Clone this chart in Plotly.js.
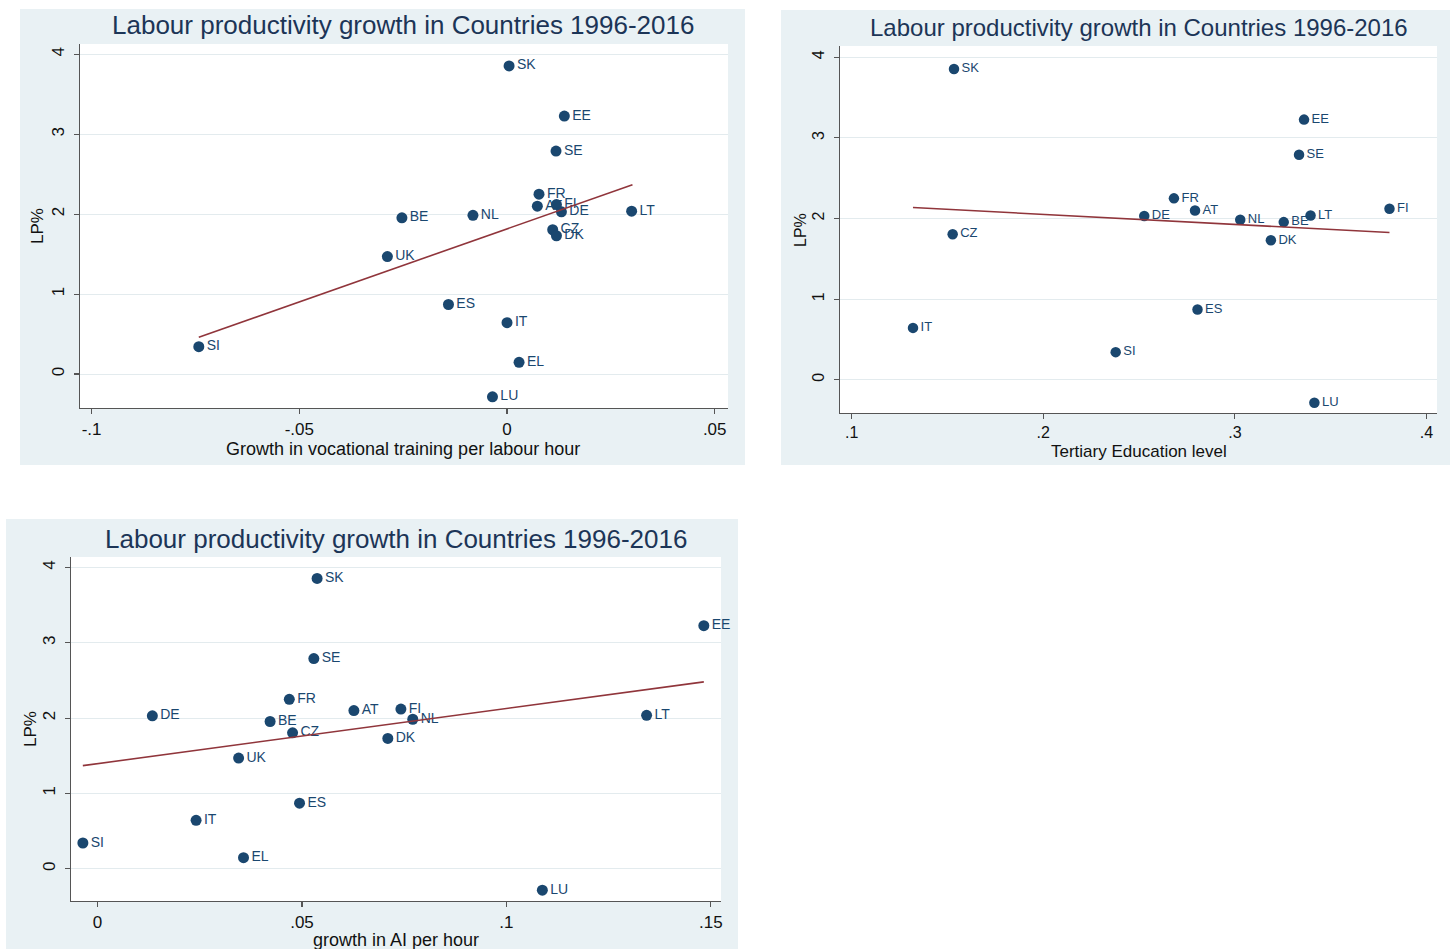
<!DOCTYPE html>
<html>
<head>
<meta charset="utf-8">
<script src="https://cdn.plot.ly/plotly-3.0.1.min.js"></script>
<style>html,body{margin:0;padding:0;background:#fff;}#chart{width:1455px;height:949px;}</style>
</head>
<body>
<div id="chart"></div>
<script>
// ---- Data ----
const countriesVoc = ['SK','EE','SE','FR','AT','FI','DE','LT','BE','NL','CZ','DK','UK','ES','IT','SI','EL','LU'];
const vocTrainingGrowth = [0.0005,0.0138,0.0118,0.0077,0.0073,0.0119,0.0131,0.0300,-0.0253,-0.0082,0.0110,0.0119,-0.0288,-0.0141,0.0000,-0.0742,0.0029,-0.0035];
const lpVoc = [3.855,3.227,2.79,2.25,2.10,2.12,2.03,2.037,1.955,1.985,1.805,1.73,1.47,0.87,0.643,0.342,0.147,-0.285];

const countriesTert = ['SK','EE','SE','FR','DE','AT','NL','BE','LT','FI','CZ','DK','ES','IT','SI','LU'];
const tertiaryEducation = [0.1534,0.3361,0.3335,0.2682,0.2527,0.2792,0.3028,0.3255,0.3395,0.3807,0.1527,0.3188,0.2805,0.1320,0.2378,0.3415];
const lpTert = [3.855,3.227,2.79,2.25,2.03,2.10,1.985,1.955,2.037,2.12,1.805,1.73,0.87,0.643,0.342,-0.285];

const countriesAI = ['SK','EE','SE','FR','DE','AT','FI','NL','BE','CZ','LT','DK','UK','ES','IT','SI','EL','LU'];
const aiGrowth = [0.0537,0.1483,0.0529,0.0469,0.0134,0.0627,0.0742,0.0771,0.0422,0.0477,0.1343,0.0710,0.0345,0.0494,0.0241,-0.0036,0.0357,0.1088];
const lpAI = [3.855,3.227,2.79,2.25,2.03,2.10,2.12,1.985,1.955,1.805,2.037,1.73,1.47,0.87,0.643,0.342,0.147,-0.285];

// fitted lines (endpoints)
const fitVocX = [-0.0742, 0.0302];
const fitVocY = [0.459, 2.369];
const fitTertX = [0.132, 0.3807];
const fitTertY = [2.136, 1.826];
const fitAIX = [-0.0036, 0.1483];
const fitAIY = [1.369, 2.481];

// tick labels
const yTickVals = [0,1,2,3,4];
const yTickText = ['0','1','2','3','4'];
const xTickVals1 = [-0.1,-0.05,0,0.05];
const xTickText1 = ['-.1','-.05','0','.05'];
const xTickVals2 = [0.1,0.2,0.3,0.4];
const xTickText2 = ['.1','.2','.3','.4'];
const xTickVals3 = [0,0.05,0.1,0.15];
const xTickText3 = ['0','.05','.1','.15'];

const titleText = 'Labour productivity growth in Countries 1996-2016';
const yTitle = 'LP%';
const xTitle1 = 'Growth in vocational training per labour hour';
const xTitle2 = 'Tertiary Education level';
const xTitle3 = 'growth in AI per hour';

// ---- Layout helpers ----
const W = 1455, H = 949;
const px = x => x / W;
const py = y => 1 - y / H;
const FONT = 'Liberation Sans, Arial, Helvetica, sans-serif';
const NAVY = '#1a476f';
const MAROON = '#90353b';
const OUTER = '#e9f1f4';
const GRID = '#e3ebee';
const AXIS = '#555555';

function pts(x, y, t, xa, ya, msize, fsize) {
  return {type:'scatter', mode:'markers+text', x:x, y:y, text:t, xaxis:xa, yaxis:ya,
    textposition:'middle right', cliponaxis:false, hoverinfo:'skip',
    marker:{size:msize, color:NAVY, line:{width:0}},
    textfont:{family:FONT, size:fsize, color:NAVY}};
}
function fit(x, y, xa, ya) {
  return {type:'scatter', mode:'lines', x:x, y:y, xaxis:xa, yaxis:ya, hoverinfo:'skip',
    line:{color:MAROON, width:1.6}};
}

const data = [
  pts(vocTrainingGrowth, lpVoc, countriesVoc, 'x', 'y', 11, 14),
  fit(fitVocX, fitVocY, 'x', 'y'),
  pts(tertiaryEducation, lpTert, countriesTert, 'x2', 'y2', 10.5, 13),
  fit(fitTertX, fitTertY, 'x2', 'y2'),
  pts(aiGrowth, lpAI, countriesAI, 'x3', 'y3', 11, 14),
  fit(fitAIX, fitAIY, 'x3', 'y3')
];

function xax(dom, range, vals, txt, anchor, fs) {
  return {domain:[px(dom[0]), px(dom[1])], range:range, anchor:anchor,
    tickmode:'array', tickvals:vals, ticktext:txt, showgrid:false, zeroline:false,
    showline:true, linecolor:AXIS, linewidth:1.2, ticks:'outside', ticklen:5, tickcolor:AXIS, tickwidth:1.2,
    ticklabelstandoff:0,
    tickfont:{family:FONT, size:fs, color:'#111'}, fixedrange:true};
}
function yax(dom, range, anchor, fs) {
  return {domain:[py(dom[1]), py(dom[0])], range:range, anchor:anchor,
    tickmode:'array', tickvals:yTickVals, ticktext:yTickText, tickangle:-90,
    showgrid:true, gridcolor:GRID, gridwidth:1, zeroline:false,
    showline:true, linecolor:AXIS, linewidth:1.2, ticks:'outside', ticklen:5, tickcolor:AXIS, tickwidth:1.2,
    ticklabelstandoff:3,
    tickfont:{family:FONT, size:fs, color:'#111'}, fixedrange:true};
}

function ann(text, x, y, size, color, angle) {
  return {text:text, xref:'paper', yref:'paper', x:px(x), y:py(y), xanchor:'center', yanchor:'middle',
    showarrow:false, textangle:angle||0, font:{family:FONT, size:size, color:color}};
}
function rect(x0, y0, x1, y1, color) {
  return {type:'rect', xref:'paper', yref:'paper', x0:px(x0), x1:px(x1), y0:py(y1), y1:py(y0),
    fillcolor:color, line:{width:0}, layer:'below'};
}

const layout = {
  width:W, height:H, margin:{l:0,r:0,t:0,b:0}, autosize:false,
  paper_bgcolor:'#ffffff', plot_bgcolor:'rgba(0,0,0,0)', showlegend:false,
  xaxis: xax([80,728], [-0.1028, 0.0532], xTickVals1, xTickText1, 'y', 17),
  yaxis: yax([44,408], [-0.425, 4.129], 'x', 17),
  xaxis2: xax([840,1437], [0.0939, 0.4055], xTickVals2, xTickText2, 'y2', 16),
  yaxis2: yax([46,413], [-0.413, 4.14], 'x2', 16),
  xaxis3: xax([71,721], [-0.0065, 0.1525], xTickVals3, xTickText3, 'y3', 17),
  yaxis3: yax([557,901], [-0.428, 4.139], 'x3', 17),
  shapes: [
    rect(20, 9, 745, 465, OUTER),
    rect(781, 10, 1450, 465, OUTER),
    rect(6, 519, 738, 949, OUTER),
    rect(80, 44, 728, 408, '#ffffff'),
    rect(840, 46, 1437, 413, '#ffffff'),
    rect(71, 557, 721, 901, '#ffffff')
  ],
  annotations: [
    ann(titleText, 403, 25, 26, '#1c3557'),
    ann(titleText, 1138.5, 28, 24, '#1c3557'),
    ann(titleText, 396, 539, 26, '#1c3557'),
    ann(xTitle1, 403, 449, 18, '#111'),
    ann(xTitle2, 1138.5, 452, 17, '#111'),
    ann(xTitle3, 396, 940, 18, '#111'),
    ann(yTitle, 38, 226, 17, '#111', -90),
    ann(yTitle, 800, 230, 16, '#111', -90),
    ann(yTitle, 30, 729, 17, '#111', -90)
  ]
};

Plotly.newPlot('chart', data, layout, {displayModeBar:false, staticPlot:true});
</script>
</body>
</html>
